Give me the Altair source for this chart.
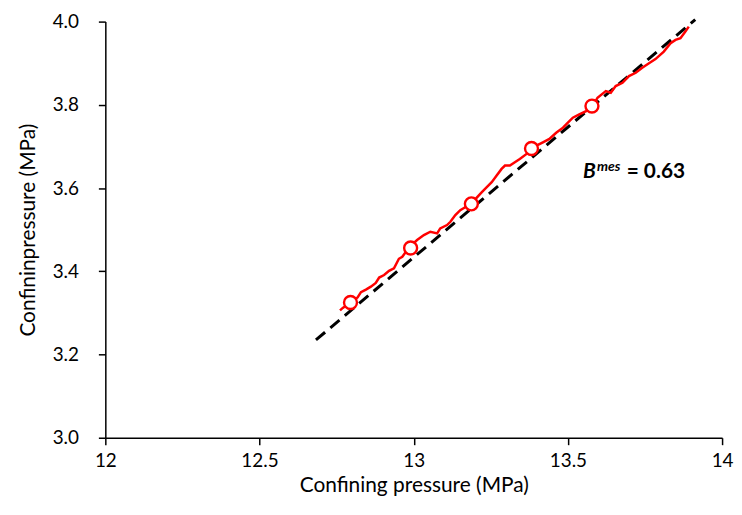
import altair as alt
import pandas as pd

# Measured (red) curve
red_x = [12.761, 12.770, 12.795, 12.818, 12.829, 12.845, 12.861, 12.877, 12.888, 12.904,
         12.920, 12.936, 12.952, 12.963, 12.986, 13.011, 13.033, 13.054, 13.076, 13.086,
         13.108, 13.119, 13.135, 13.151, 13.167, 13.187, 13.221, 13.237, 13.253, 13.269,
         13.285, 13.296, 13.312, 13.328, 13.344, 13.366, 13.382, 13.419, 13.440, 13.462,
         13.484, 13.500, 13.516, 13.537, 13.559, 13.581, 13.596, 13.623, 13.639, 13.655,
         13.677, 13.698, 13.720, 13.741, 13.763, 13.784, 13.811, 13.833, 13.849, 13.865,
         13.881, 13.892]
red_y = [3.306, 3.312, 3.325, 3.337, 3.350, 3.356, 3.363, 3.372, 3.385, 3.391,
         3.401, 3.407, 3.430, 3.435, 3.458, 3.475, 3.487, 3.495, 3.491, 3.503,
         3.511, 3.519, 3.535, 3.547, 3.554, 3.563, 3.590, 3.602, 3.614, 3.630,
         3.646, 3.654, 3.654, 3.662, 3.670, 3.682, 3.696, 3.710, 3.718, 3.733,
         3.745, 3.757, 3.769, 3.777, 3.785, 3.797, 3.817, 3.833, 3.829, 3.845,
         3.853, 3.869, 3.877, 3.889, 3.900, 3.910, 3.928, 3.948, 3.956, 3.960,
         3.976, 3.988]

# Circle markers
circ_x = [12.795, 12.990, 13.187, 13.382, 13.578]
circ_y = [3.325, 3.456, 3.562, 3.695, 3.797]

# Dashed fit line end points
fit_x = [12.683, 13.913]
fit_y = [3.235, 4.005]

# Annotation
ann_x = [13.549]
ann_y = [3.623]

FONT = "Lato"

red_df = pd.DataFrame({"x": red_x, "y": red_y, "i": list(range(len(red_x)))})
circ_df = pd.DataFrame({"x": circ_x, "y": circ_y})
fit_df = pd.DataFrame({"x": fit_x, "y": fit_y})
ann_df = pd.DataFrame({"x": ann_x, "y": ann_y})

xscale = alt.Scale(domain=[12, 14], nice=False, zero=False)
yscale = alt.Scale(domain=[3.0, 4.0], nice=False, zero=False)

xaxis = alt.Axis(title="Confining pressure (MPa)", values=[12, 12.5, 13, 13.5, 14],
                 format="~g", grid=False, tickSize=7, labelPadding=7, labelFlush=False,
                 titlePadding=4)
yaxis = alt.Axis(title="Confininpressure (MPa)", values=[3.0, 3.2, 3.4, 3.6, 3.8, 4.0],
                 format=".1f", grid=False, tickSize=7, labelPadding=20, labelFlush=False,
                 titlePadding=14)

fit = alt.Chart(fit_df).mark_line(color="black", strokeWidth=3, strokeDash=[12, 7], clip=False).encode(
    x=alt.X("x:Q", scale=xscale, axis=xaxis),
    y=alt.Y("y:Q", scale=yscale, axis=yaxis),
)

red = alt.Chart(red_df).mark_line(color="#FF0000", strokeWidth=2.5).encode(
    x=alt.X("x:Q", scale=xscale),
    y=alt.Y("y:Q", scale=yscale),
    order="i:Q",
)

circ = alt.Chart(circ_df).mark_point(shape="circle", size=170, filled=False, color="#FF0000",
                                     fill="white", fillOpacity=1, strokeWidth=2.4, opacity=1).encode(
    x=alt.X("x:Q", scale=xscale),
    y=alt.Y("y:Q", scale=yscale),
)

t_b = alt.Chart(ann_df).mark_text(text="B", font=FONT, fontSize=21, fontWeight="bold",
                                  fontStyle="italic", align="left", baseline="alphabetic",
                                  color="black").encode(
    x=alt.X("x:Q", scale=xscale), y=alt.Y("y:Q", scale=yscale))
t_mes = alt.Chart(ann_df).mark_text(text="mes", font=FONT, fontSize=14, fontWeight="bold",
                                    fontStyle="italic", align="left", baseline="alphabetic",
                                    dx=14, dy=-8, color="black").encode(
    x=alt.X("x:Q", scale=xscale), y=alt.Y("y:Q", scale=yscale))
t_val = alt.Chart(ann_df).mark_text(text="= 0.63", font=FONT, fontSize=21, fontWeight="bold",
                                    align="left", baseline="alphabetic", dx=44,
                                    color="black").encode(
    x=alt.X("x:Q", scale=xscale), y=alt.Y("y:Q", scale=yscale))

chart = alt.layer(fit, red, circ, t_b, t_mes, t_val).properties(
    width=621, height=419,
    autosize=alt.AutoSizeParams(type="none"),
    padding={"left": 98, "top": 12, "right": 12, "bottom": 62},
).configure_view(stroke=None).configure_axis(
    domainColor="black", domainWidth=1.5, tickColor="black", tickWidth=1.5,
    labelFont=FONT, labelFontSize=19, labelColor="black",
    titleFont=FONT, titleFontSize=21, titleFontWeight="normal", titleColor="black",
)

chart.save("out.html", embed_options={"renderer": "svg", "actions": False})
